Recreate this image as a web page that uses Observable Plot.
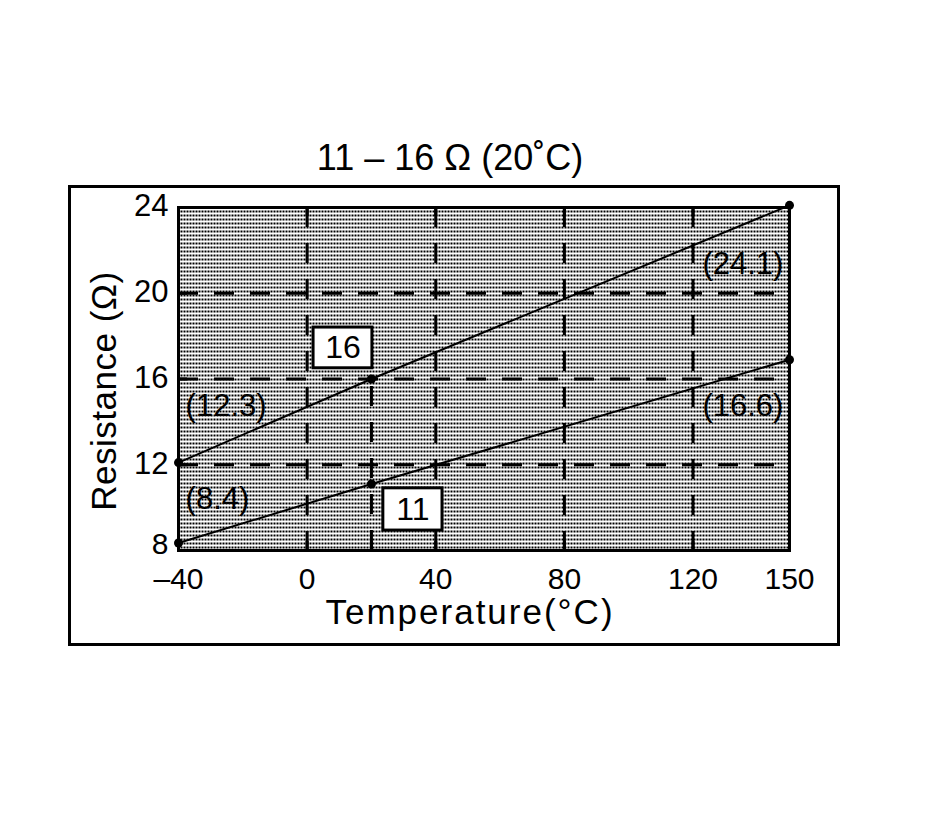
<!DOCTYPE html>
<html><head><meta charset="utf-8">
<script src="https://cdn.jsdelivr.net/npm/d3@7"></script>
<script src="https://cdn.jsdelivr.net/npm/@observablehq/plot@0.6"></script>
<style>
body{margin:0;background:#fff;font-family:"Liberation Sans",Arial,sans-serif;}
#wrap{position:relative;width:928px;height:814px;}
#title{position:absolute;left:60px;width:780px;top:140px;text-align:center;font-size:36px;line-height:1;color:#000;white-space:pre;}
#box{position:absolute;left:68px;top:185px;width:772px;height:461px;border:3px solid #000;box-sizing:border-box;}
#chart{position:absolute;left:69px;top:186px;}
</style></head><body>
<div id="wrap"><div id="title">11 – 16 Ω (20˚C)</div><div id="box"></div><div id="chart"></div></div>
<script>
// ---- data ----
const temps = [-40, 20, 150];
const upperOhms = [12.1, 16.0, 24.1];
const lowerOhms = [8.35, 11.1, 16.9];
const xDomain = [-40, 150];
const yDomain = [8, 24];
const xTicks = [-40, 0, 40, 80, 120, 150];
const yTicks = [8, 12, 16, 20, 24];
const xGrid = [0, 40, 80, 120];
const yGrid = [12, 16, 20];
const xInnerBottom = [0, 20, 40, 80, 120];
const xInnerTop = [0, 40, 80, 120];
const yInner = [12, 16, 20];
const boxTexts = ["16", "11"];
const boxX1 = [2.0, 23.7];
const boxX2 = [20.3, 42.1];
const boxY1 = [16.5, 8.93];
const boxY2 = [18.4, 10.9];
const endTexts = ["(12.3)", "(8.4)", "(24.1)", "(16.6)"];
const endTemps = [-37.8, -37.8, 148.1, 148.1];
const endOhms = [14.76, 10.38, 21.34, 14.74];
const endAnchors = ["start", "start", "end", "end"];
const xLabel = "Temperature(°C)";
const yLabel = "Resistance (Ω)";

// ---- tables ----
const upper = temps.map((t, i) => ({t, r: upperOhms[i]}));
const lower = temps.map((t, i) => ({t, r: lowerOhms[i]}));
const boxes = boxTexts.map((s, i) => ({s, x1: boxX1[i], x2: boxX2[i], y1: boxY1[i], y2: boxY2[i]}));
const ends = endTexts.map((s, i) => ({s, t: endTemps[i], r: endOhms[i], a: endAnchors[i]}));
const drop = [{t: temps[1], r0: yDomain[0], r: upperOhms[1]}];
const dash = "20,16";

const chart = Plot.plot({
  width: 770, height: 459,
  marginLeft: 109, marginRight: 50, marginTop: 21, marginBottom: 95,
  style: {fontFamily: '"Liberation Sans", Arial, sans-serif', background: "transparent", color: "black", overflow: "visible"},
  x: {domain: xDomain, label: null},
  y: {domain: yDomain, label: null},
  marks: [
    Plot.frame({fill: "url(#stipple)", stroke: null}),
    Plot.ruleY(yGrid, {y: d => d, stroke: "black", strokeWidth: 3, strokeDasharray: dash}),
    Plot.ruleX(xGrid, {x: d => d, stroke: "black", strokeWidth: 3, strokeDasharray: dash}),
    Plot.ruleX(drop, {x: "t", y1: "r0", y2: "r", stroke: "black", strokeWidth: 3, strokeDasharray: dash}),
    Plot.line(upper, {x: "t", y: "r", stroke: "black", strokeWidth: 2}),
    Plot.line(lower, {x: "t", y: "r", stroke: "black", strokeWidth: 2}),
    Plot.dot(upper, {x: "t", y: "r", r: 4.5, fill: "black"}),
    Plot.dot(lower, {x: "t", y: "r", r: 4.5, fill: "black"}),
    Plot.rect(boxes, {x1: "x1", x2: "x2", y1: "y1", y2: "y2", fill: "white", stroke: "black", strokeWidth: 3}),
    Plot.text(boxes, {x: d => (d.x1 + d.x2) / 2, y: d => (d.y1 + d.y2) / 2, text: "s", fontSize: 32, fill: "black"}),
    Plot.text(ends.filter(d => d.a === "start"), {x: "t", y: "r", text: "s", textAnchor: "start", fontSize: 31, fill: "black"}),
    Plot.text(ends.filter(d => d.a === "end"), {x: "t", y: "r", text: "s", textAnchor: "end", fontSize: 31, fill: "black"}),
    Plot.ruleX(xInnerBottom, {x: d => d, y1: yDomain[0], y2: yDomain[0], insetTop: -9, stroke: "black", strokeWidth: 3}),
    Plot.ruleX(xInnerTop, {x: d => d, y1: yDomain[1], y2: yDomain[1], insetBottom: -9, stroke: "black", strokeWidth: 3}),
    Plot.ruleY(yInner, {y: d => d, x1: xDomain[0], x2: xDomain[0], insetRight: -9, stroke: "black", strokeWidth: 3}),
    Plot.frame({stroke: "black", strokeWidth: 3}),
    Plot.axisX(xTicks, {anchor: "bottom", tickSize: 0, tickPadding: 17, fontSize: 30, tickFormat: d => d < 0 ? "–" + Math.abs(d) : String(d), label: null}),
    Plot.axisY(yTicks.filter(d => d !== yDomain[0]), {anchor: "left", tickSize: 0, tickPadding: 10, dy: -1, fontSize: 31, label: null}),
    Plot.axisY(yTicks.filter(d => d === yDomain[0]), {anchor: "left", tickSize: 0, tickPadding: 10, dy: -6, fontSize: 30, label: null}),
    Plot.text([xLabel], {text: d => d, frameAnchor: "bottom", textAnchor: "middle", lineAnchor: "top", dy: 49, dx: -14, fontSize: 35, fill: "black"}),
    Plot.text([yLabel], {text: d => d, frameAnchor: "left", textAnchor: "middle", rotate: -90, lineAnchor: "bottom", dx: -63, dy: 12, fontSize: 35, fill: "black"})
  ]
});

const ns = "http://www.w3.org/2000/svg";
const defs = document.createElementNS(ns, "defs");
const pat = document.createElementNS(ns, "pattern");
pat.setAttribute("id", "stipple");
pat.setAttribute("width", "3");
pat.setAttribute("height", "4");
pat.setAttribute("patternUnits", "userSpaceOnUse");
const bg = document.createElementNS(ns, "rect");
bg.setAttribute("width", "3"); bg.setAttribute("height", "4"); bg.setAttribute("fill", "#fff");
pat.appendChild(bg);
const dotR = document.createElementNS(ns, "rect");
dotR.setAttribute("width", "2"); dotR.setAttribute("height", "2"); dotR.setAttribute("fill", "#000");
pat.appendChild(dotR);
defs.appendChild(pat);
chart.insertBefore(defs, chart.firstChild);

chart.querySelectorAll("text").forEach(t => {
  if (t.textContent === xLabel) t.style.letterSpacing = "2px";
  if (t.textContent === yLabel) t.style.letterSpacing = "0.5px";
});

document.getElementById("chart").appendChild(chart);
</script>
</body></html>
